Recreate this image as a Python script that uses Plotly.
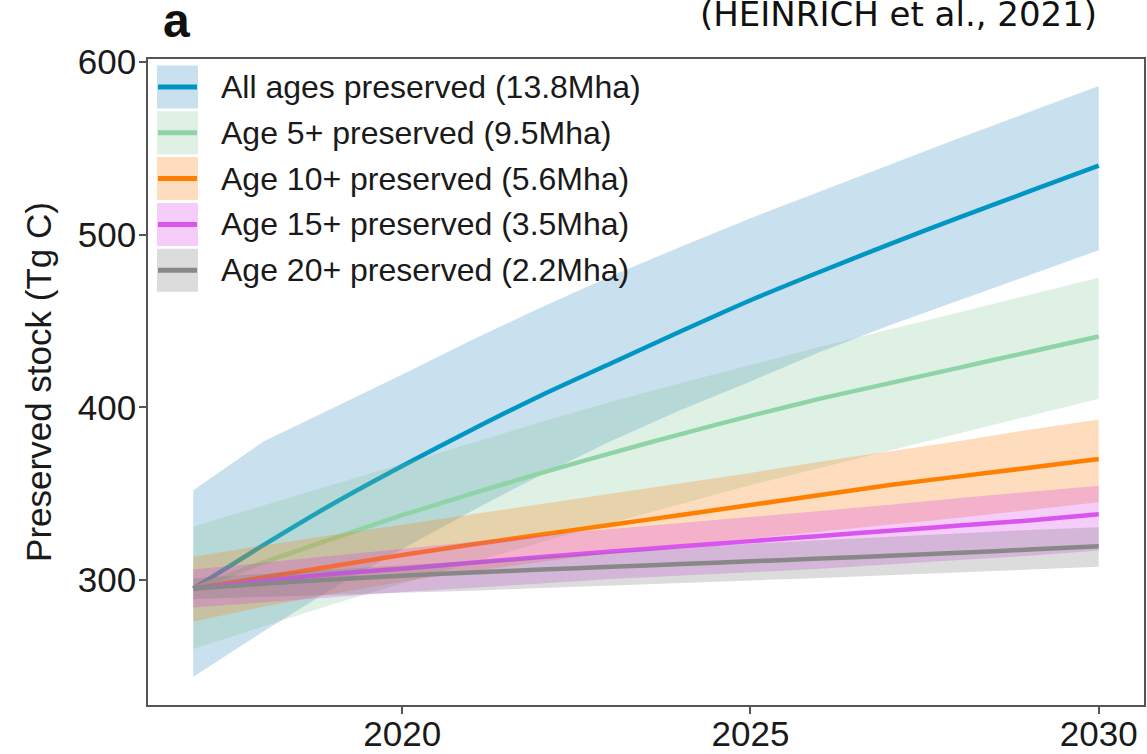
import plotly.graph_objects as go

# ---------------- data ----------------
years = list(range(2017, 2031))

labels = [
    "All ages preserved (13.8Mha)",
    "Age 5+ preserved (9.5Mha)",
    "Age 10+ preserved (5.6Mha)",
    "Age 15+ preserved (3.5Mha)",
    "Age 20+ preserved (2.2Mha)",
]

all_mid = [295, 320, 344, 366, 387, 407, 425.5, 444, 462, 478.5, 494.5, 510, 525, 540]
all_lo = [244, 270, 295, 318, 340, 361, 380.5, 398.5, 415, 432, 447.5, 462, 476.5, 491]
all_hi = [352, 380, 399.5, 419, 439, 458, 476, 493, 509.5, 525, 540.5, 556, 571, 586]

a5_mid = [295, 310, 324, 337.5, 350, 362, 373.5, 384.5, 395, 405, 414, 423, 432, 441]
a5_lo = [260, 273, 286, 298, 310, 322, 333, 344, 355, 365, 375, 385, 395, 405]
a5_hi = [331, 343, 355, 367, 379.3, 391.6, 403.2, 414, 424.6, 435, 445, 455, 465, 475]

a10_mid = [295, 301.5, 308, 314.5, 320.5, 326.3, 332, 337.6, 343.4, 349.2, 355, 360, 365, 370]
a10_lo = [276, 284.5, 292, 299, 305, 310.5, 315.5, 320, 324, 328, 332, 336, 340.5, 345]
a10_hi = [313.5, 320, 326, 332, 338, 344, 350, 356, 362, 368.5, 374.5, 380.5, 387, 393]

a15_mid = [295, 299.5, 303.5, 306.5, 310, 313.3, 316.5, 319.5, 322.5, 325.5, 328.5, 331.5, 334.5, 338]
a15_lo = [284, 287, 290, 293, 295.5, 298, 300.5, 302.5, 304.5, 306.5, 309, 311.5, 314, 317]
a15_hi = [306, 310, 314, 318, 322, 326, 329.5, 333, 336.5, 340, 343.5, 347.5, 351, 354.6]

a20_mid = [295, 297.8, 300.3, 302.5, 304.3, 306, 307.6, 309.2, 310.8, 312.4, 314, 315.8, 317.6, 319.5]
a20_lo = [289, 290.2, 291.4, 292.6, 293.8, 295, 296.7, 298.2, 299.7, 301.2, 302.7, 304.3, 306, 307.7]
a20_hi = [301, 303.5, 306, 308.5, 311, 313.5, 316, 318.5, 321, 323, 325, 327, 329, 330.5]

mids = [all_mid, a5_mid, a10_mid, a15_mid, a20_mid]
lows = [all_lo, a5_lo, a10_lo, a15_lo, a20_lo]
highs = [all_hi, a5_hi, a10_hi, a15_hi, a20_hi]

x_ticks = [2020, 2025, 2030]
y_ticks = [300, 400, 500, 600]

# ---------------- styles ----------------
line_colors = ["#0096c4", "#8fd4a6", "#ff7f00", "#d955ee", "#888888"]
band_colors = [
    "rgba(70,150,195,0.29)",
    "rgba(127,195,147,0.25)",
    "rgba(250,120,0,0.25)",
    "rgba(215,51,235,0.25)",
    "rgba(115,115,115,0.25)",
]

W, H = 1147, 754
ML, MR, MT, MB = 148, 3, 59, 49
PW, PH = W - ML - MR, H - MT - MB


def px_x(p):
    return (p - ML) / PW


def px_y(p):
    return (H - MB - p) / PH


fig = go.Figure()
for lab, mid, lo, hi, lc, bc in zip(labels, mids, lows, highs, line_colors, band_colors):
    fig.add_trace(go.Scatter(
        x=years + years[::-1], y=hi + lo[::-1],
        fill="toself", fillcolor=bc, mode="lines",
        line=dict(width=0, color=bc), hoverinfo="skip",
        showlegend=False, name=lab,
    ))
    fig.add_trace(go.Scatter(
        x=years, y=mid, mode="lines",
        line=dict(color=lc, width=4.5, shape="spline", smoothing=0.6),
        showlegend=False, name=lab,
    ))

# ---------------- ggplot-style legend drawn inside the panel ----------------
shapes = []
annotations = []
for i, (lab, lc, bc) in enumerate(zip(labels, line_colors, band_colors)):
    cy = 87 + 45.8 * i
    shapes.append(dict(type="rect", xref="paper", yref="paper",
                       x0=px_x(157), x1=px_x(198), y0=px_y(cy + 21.5), y1=px_y(cy - 21.5),
                       fillcolor=bc, line=dict(width=0), layer="above"))
    shapes.append(dict(type="line", xref="paper", yref="paper",
                       x0=px_x(158), x1=px_x(197), y0=px_y(cy), y1=px_y(cy),
                       line=dict(color=lc, width=5), layer="above"))
    annotations.append(dict(text=lab, xref="paper", yref="paper",
                            x=px_x(219), y=px_y(cy), xanchor="left", yanchor="middle",
                            showarrow=False,
                            font=dict(family="Liberation Sans, Arial", size=32, color="#1a1a1a")))

annotations.append(dict(text="<b>a</b>", xref="paper", yref="paper",
                        x=px_x(161), y=px_y(21), xanchor="left", yanchor="middle",
                        showarrow=False,
                        font=dict(family="Liberation Sans, Arial", size=48, color="#111")))
annotations.append(dict(text="(HEINRICH et al., 2021)", xref="paper", yref="paper",
                        x=px_x(1099), y=px_y(14), xanchor="right", yanchor="middle",
                        showarrow=False,
                        font=dict(family="DejaVu Sans", size=34, color="#111")))

fig.update_layout(
    width=W, height=H,
    margin=dict(l=ML, r=MR, t=MT, b=MB, autoexpand=False),
    paper_bgcolor="white", plot_bgcolor="white",
    showlegend=False,
    shapes=shapes, annotations=annotations,
    font=dict(family="Liberation Sans, Arial", color="#1a1a1a"),
)
fig.update_xaxes(
    range=[2016.35, 2030.65], tickvals=x_ticks, ticktext=[str(v) for v in x_ticks],
    showgrid=False, zeroline=False,
    showline=True, mirror=True, linecolor="#555", linewidth=1.6,
    ticks="outside", ticklen=7, tickwidth=1.6, tickcolor="#555",
    ticklabelstandoff=-10,
    tickfont=dict(size=35, color="#1a1a1a"),
)
fig.update_yaxes(
    range=[227.6, 601.7], tickvals=y_ticks, ticktext=[str(v) for v in y_ticks],
    showgrid=False, zeroline=False,
    showline=True, mirror=True, linecolor="#555", linewidth=1.6,
    ticks="outside", ticklen=7, tickwidth=1.6, tickcolor="#555",
    ticklabelstandoff=-4,
    tickfont=dict(size=35, color="#1a1a1a"),
    title=dict(text="Preserved stock (Tg C)", font=dict(size=35, color="#1a1a1a"), standoff=16),
)

fig.write_html(
    "out.html",
    config={"displayModeBar": False},
    post_script="document.body.style.margin='0';document.body.style.overflow='hidden';",
)
